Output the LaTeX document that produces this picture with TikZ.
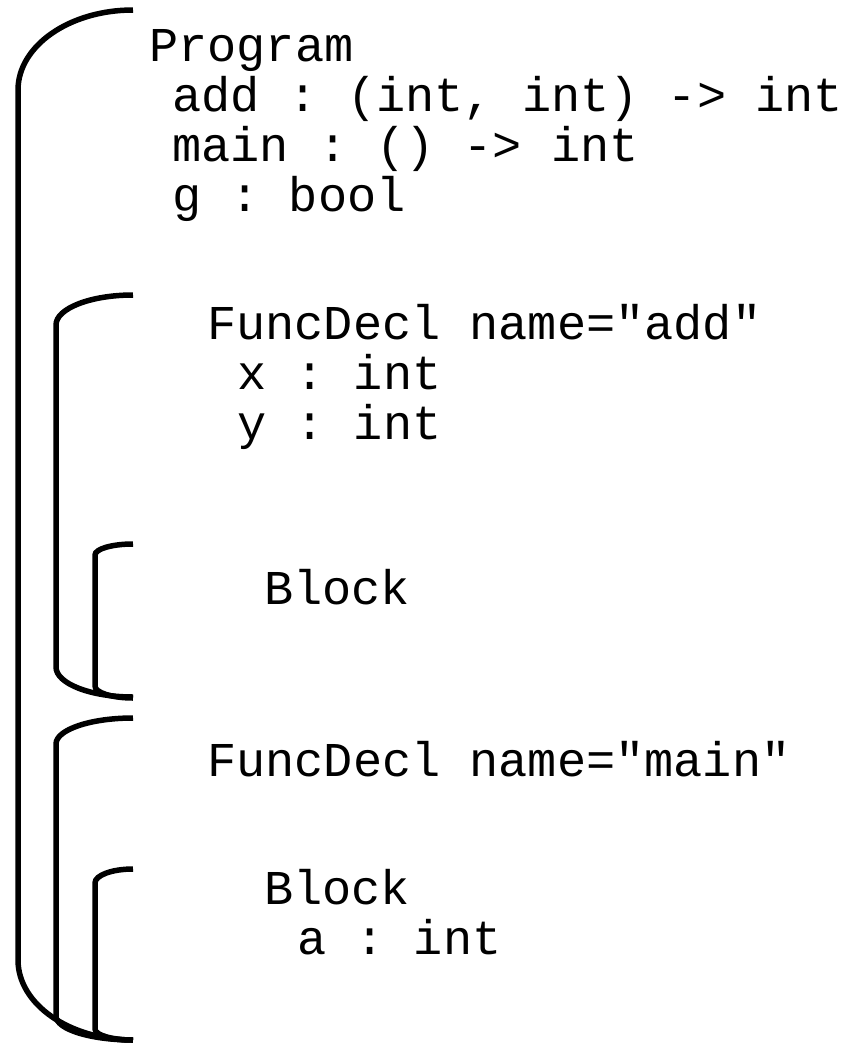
\documentclass[tikz,border=0pt]{standalone}
\usepackage{fontspec}
\setmonofont{Liberation Mono}
\newcommand\codefont{\ttfamily\fontsize{48.6bp}{50bp}\selectfont}
% #1 left x, #2 top y, #3 top corner height, #4 bottom y, #5 bottom corner height
\newcommand\drawbracket[5]{%
  \draw[bracketline] (133,#2)
    .. controls ({133-0.5523*(133-#1)},#2) and (#1,{#2+#3-0.5523*#3}) .. (#1,{#2+#3})
    -- (#1,{#4-#5})
    .. controls (#1,{#4-#5+0.5523*#5}) and ({133-0.5523*(133-#1)},#4) .. (133,#4);}
\begin{document}
\begin{tikzpicture}[x=1bp,y=-1bp,
  bracketline/.style={line width=5.5bp, black},
  codeline/.style={anchor=base west, inner sep=0pt, font=\codefont}]
\useasboundingbox (0,0) rectangle (853,1044);
\fill[white] (0,0) rectangle (853,1044);

% scope brackets
\drawbracket{18}{10}{80}{1040}{80}
\drawbracket{56}{295}{30}{697}{30}
\drawbracket{95}{544}{11}{698}{12}
\drawbracket{56}{718}{26}{1040}{24}
\drawbracket{95}{869}{14}{1040}{11}

% program
\node[codeline] (prog)     at (149,61)  {Program};
\node[codeline] (progadd)  at (172,111) {add : (int, int) -> int};
\node[codeline] (progmain) at (172,161) {main : () -> int};
\node[codeline] (progg)    at (172,211) {g : bool};

% function add
\node[codeline] (fadd)  at (207,339) {FuncDecl name="add"};
\node[codeline] (faddx) at (237,389) {x : int};
\node[codeline] (faddy) at (237,439) {y : int};
\node[codeline] (badd)  at (264,604) {Block};

% function main
\node[codeline] (fmain)  at (207,776) {FuncDecl name="main"};
\node[codeline] (bmain)  at (264,904) {Block};
\node[codeline] (bmaina) at (297,954) {a : int};
\end{tikzpicture}
\end{document}
